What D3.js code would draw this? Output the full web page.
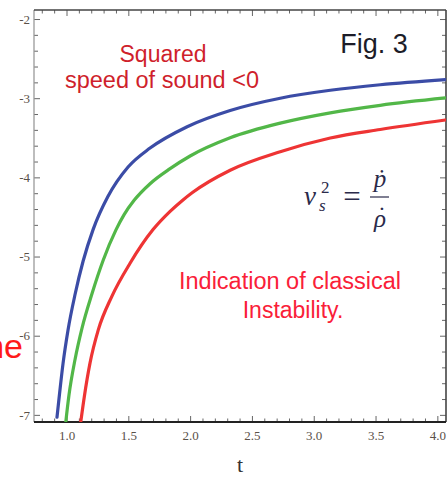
<!DOCTYPE html>
<html>
<head>
<meta charset="utf-8">
<script src="https://cdn.jsdelivr.net/npm/d3@7"></script>
<style>
    body { margin: 0; background: #fff; }
    svg { display: block; }
</style>
</head>
<body>
<div id="chart"></div>
<script>
// values (t, squared speed of sound)
const blueT  = [0.923, 0.939, 0.972, 1.012, 1.069, 1.134, 1.215, 1.336, 1.498, 1.676, 1.976, 2.324, 2.729, 3.134, 3.538, 4.065];
const blueV  = [-7.03, -6.80, -6.35, -5.93, -5.48, -5.06, -4.66, -4.24, -3.87, -3.63, -3.36, -3.155, -3.00, -2.90, -2.83, -2.765];
const greenT = [0.990, 1.020, 1.069, 1.126, 1.206, 1.296, 1.401, 1.466, 1.547, 1.676, 1.838, 2.000, 2.324, 2.729, 3.134, 3.538, 4.065];
const greenV = [-7.15, -6.75, -6.30, -5.90, -5.47, -5.05, -4.66, -4.47, -4.29, -4.08, -3.89, -3.73, -3.50, -3.315, -3.185, -3.09, -2.997];
const redT   = [1.110, 1.144, 1.190, 1.257, 1.366, 1.514, 1.700, 1.838, 1.935, 2.016, 2.324, 2.729, 3.134, 3.538, 4.065];
const redV   = [-7.15, -6.77, -6.347, -5.927, -5.506, -5.085, -4.66, -4.43, -4.295, -4.195, -3.91, -3.676, -3.503, -3.395, -3.275];

const xMajorTicks = [1.0, 1.5, 2.0, 2.5, 3.0, 3.5, 4.0];
const yMajorTicks = [-2, -3, -4, -5, -6, -7];

class SpeedChart {

    constructor(parentElement) {
        this.parentElement = parentElement;
        this.series = [
            { name: "blue",  color: "#3b4ca6", t: blueT,  v: blueV },
            { name: "green", color: "#52b748", t: greenT, v: greenV },
            { name: "red",   color: "#ee3434", t: redT,   v: redV }
        ];
        this.initVis();
    }

    initVis() {
        let vis = this;

        vis.width = 447;
        vis.height = 477;
        vis.plot = { left: 34, right: 446, top: 10, bottom: 422 };

        vis.svg = d3.select(`#${vis.parentElement}`).append("svg")
            .attr("width", vis.width)
            .attr("height", vis.height);

        // Scales
        vis.x = d3.scaleLinear()
            .domain([0.737, 4.07])
            .range([vis.plot.left, vis.plot.right]);

        vis.y = d3.scaleLinear()
            .domain([-7.09, -1.886])
            .range([vis.plot.bottom, vis.plot.top]);

        const xMinor = d3.range(8, 41).map(d => d / 10).filter(d => !xMajorTicks.some(m => Math.abs(m - d) < 1e-6));
        const yMinor = d3.range(-35, -9).map(d => d / 5).filter(d => d % 1 !== 0);

        const tickFont = "'Liberation Serif', 'Times New Roman', serif";

        // bottom axis
        const bottom = vis.svg.append("g")
            .attr("transform", `translate(0,${vis.plot.bottom})`);
        bottom.call(d3.axisBottom(vis.x).tickValues(xMajorTicks).tickSize(-6).tickPadding(9)
            .tickFormat(d3.format(".1f")));
        bottom.append("g").call(d3.axisBottom(vis.x).tickValues(xMinor).tickSize(-3.5).tickFormat(""));

        // left axis
        const left = vis.svg.append("g")
            .attr("transform", `translate(${vis.plot.left},0)`);
        left.call(d3.axisLeft(vis.y).tickValues(yMajorTicks).tickSize(-6).tickPadding(4)
            .tickFormat(d => String(d)));
        left.append("g").call(d3.axisLeft(vis.y).tickValues(yMinor).tickSize(-4).tickFormat(""));

        // top and right frame, ticks only
        const top = vis.svg.append("g")
            .attr("transform", `translate(0,${vis.plot.top})`);
        top.call(d3.axisTop(vis.x).tickValues(xMajorTicks).tickSize(-6).tickFormat(""));
        top.append("g").call(d3.axisTop(vis.x).tickValues(xMinor).tickSize(-3.5).tickFormat(""));

        const right = vis.svg.append("g")
            .attr("transform", `translate(${vis.plot.right},0)`);
        right.call(d3.axisRight(vis.y).tickValues(yMajorTicks).tickSize(-6).tickFormat(""));
        right.append("g").call(d3.axisRight(vis.y).tickValues(yMinor).tickSize(-4).tickFormat(""));

        vis.svg.selectAll(".domain").attr("stroke", "none");
        vis.svg.selectAll(".tick line").attr("stroke", "#666").attr("stroke-width", 1);
        vis.svg.selectAll(".tick text")
            .style("font-family", tickFont)
            .style("font-size", "13px")
            .attr("fill", "#5a5048");

        // frame lines
        vis.svg.append("line")
            .attr("x1", vis.plot.left).attr("x2", vis.plot.left)
            .attr("y1", vis.plot.top).attr("y2", vis.plot.bottom)
            .attr("stroke", "#9a9a9a").attr("stroke-width", 1.3);
        vis.svg.append("line")
            .attr("x1", vis.plot.left).attr("x2", vis.plot.right)
            .attr("y1", vis.plot.top).attr("y2", vis.plot.top)
            .attr("stroke", "#444").attr("stroke-width", 1.6);
        vis.svg.append("line")
            .attr("x1", vis.plot.right).attr("x2", vis.plot.right)
            .attr("y1", vis.plot.top).attr("y2", vis.plot.bottom)
            .attr("stroke", "#444").attr("stroke-width", 1.6);
        vis.svg.append("line")
            .attr("x1", vis.plot.left).attr("x2", vis.plot.right)
            .attr("y1", vis.plot.bottom).attr("y2", vis.plot.bottom)
            .attr("stroke", "#222").attr("stroke-width", 2);

        // x axis title
        vis.svg.append("text")
            .attr("x", 240)
            .attr("y", 472)
            .attr("text-anchor", "middle")
            .style("font-family", tickFont)
            .style("font-size", "22px")
            .attr("fill", "#333")
            .text("t");

        vis.updateVis();
    }

    updateVis() {
        let vis = this;

        vis.svg.append("clipPath")
            .attr("id", "plot-clip")
            .append("rect")
            .attr("x", vis.plot.left)
            .attr("y", vis.plot.top)
            .attr("width", vis.plot.right - vis.plot.left)
            .attr("height", vis.plot.bottom - vis.plot.top);

        const line = d3.line()
            .x(d => vis.x(d[0]))
            .y(d => vis.y(d[1]))
            .curve(d3.curveMonotoneX);

        vis.svg.append("g")
            .attr("clip-path", "url(#plot-clip)")
            .selectAll(".curve")
            .data(vis.series)
            .enter().append("path")
            .attr("class", "curve")
            .attr("d", s => line(s.t.map((t, i) => [t, s.v[i]])))
            .attr("fill", "none")
            .attr("stroke", s => s.color)
            .attr("stroke-width", 3.2)
            .attr("stroke-linecap", "round");

        // annotations
        const sans = "'Liberation Sans', Arial, sans-serif";
        const serif = "'Liberation Serif', 'Times New Roman', serif";

        vis.svg.append("text")
            .attr("x", 163).attr("y", 62)
            .attr("text-anchor", "middle")
            .style("font-family", sans).style("font-size", "23px")
            .attr("fill", "#cf1f2c")
            .text("Squared");
        vis.svg.append("text")
            .attr("x", 162).attr("y", 88)
            .attr("text-anchor", "middle")
            .style("font-family", sans).style("font-size", "23.5px")
            .attr("fill", "#cf1f2c")
            .text("speed of sound <0");

        vis.svg.append("text")
            .attr("x", 374).attr("y", 53)
            .attr("text-anchor", "middle")
            .style("font-family", sans).style("font-size", "27px")
            .attr("fill", "#1c1c28")
            .text("Fig. 3");

        vis.svg.append("text")
            .attr("x", 290).attr("y", 289)
            .attr("text-anchor", "middle")
            .style("font-family", sans).style("font-size", "23.5px")
            .attr("fill", "#fa2038")
            .text("Indication of classical");
        vis.svg.append("text")
            .attr("x", 293).attr("y", 318)
            .attr("text-anchor", "middle")
            .style("font-family", sans).style("font-size", "23px")
            .attr("fill", "#fa2038")
            .text("Instability.");

        vis.svg.append("text")
            .attr("x", 23).attr("y", 358)
            .attr("text-anchor", "end")
            .style("font-family", sans).style("font-size", "34px")
            .attr("fill", "#ff1a1a")
            .text("ne");

        // formula v_s^2 = p-dot / rho-dot
        const f = vis.svg.append("g")
            .style("font-family", serif)
            .attr("fill", "#2a2a4a");
        f.append("text").attr("x", 304).attr("y", 205)
            .style("font-size", "27px").style("font-style", "italic").text("v");
        f.append("text").attr("x", 321).attr("y", 193)
            .style("font-size", "17px").text("2");
        f.append("text").attr("x", 319).attr("y", 211)
            .style("font-size", "17px").style("font-style", "italic").text("s");
        f.append("text").attr("x", 352).attr("y", 207)
            .attr("text-anchor", "middle")
            .style("font-size", "31px").text("=");
        f.append("line")
            .attr("x1", 370).attr("x2", 389)
            .attr("y1", 197).attr("y2", 197)
            .attr("stroke", "#2a2a4a").attr("stroke-width", 1.2);
        f.append("text").attr("x", 380).attr("y", 187)
            .attr("text-anchor", "middle")
            .style("font-size", "25px").style("font-style", "italic").text("\u1E57");
        f.append("text").attr("x", 380).attr("y", 227)
            .attr("text-anchor", "middle")
            .style("font-size", "25px").style("font-style", "italic").text("\u03C1");
        f.append("text").attr("x", 382).attr("y", 216)
            .attr("text-anchor", "middle")
            .style("font-size", "22px").text("\u00B7");
    }
}

new SpeedChart("chart");
</script>
</body>
</html>
